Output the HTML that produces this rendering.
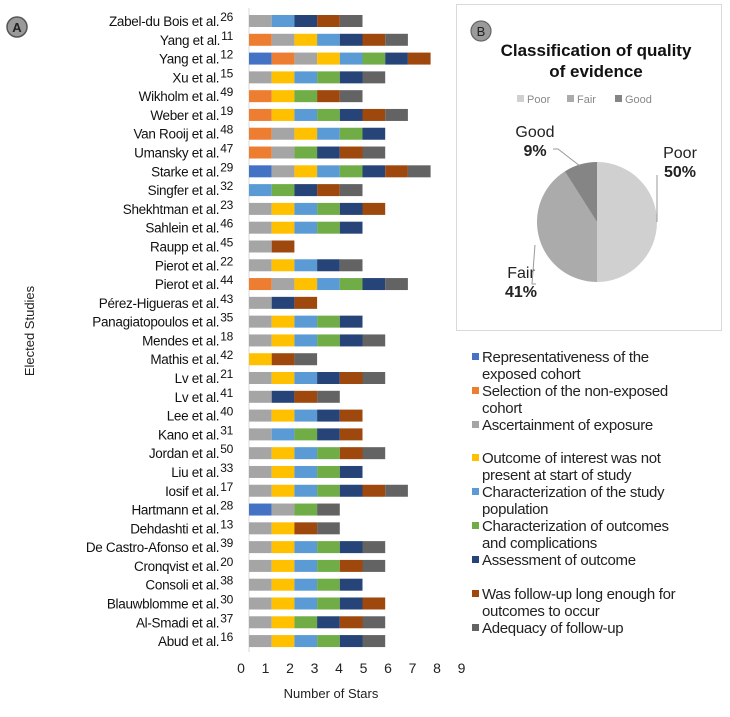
<!DOCTYPE html>
<html><head><meta charset="utf-8"><style>
body{margin:0;background:#fff;font-family:"Liberation Sans",sans-serif;}
svg text{font-family:"Liberation Sans",sans-serif;}
</style></head><body>
<svg width="730" height="712" viewBox="0 0 730 712">
<g id="bars"></g>
<g id="pie"></g>
<g id="legend"></g>
</svg>
<script>
const studies=["Zabel-du Bois et al.","Yang et al.","Yang et al.","Xu et al.","Wikholm et al.","Weber et al.","Van Rooij et al.","Umansky et al.","Starke et al.","Singfer et al.","Shekhtman et al.","Sahlein et al.","Raupp et al.","Pierot et al.","Pierot et al.","Pérez-Higueras et al.","Panagiatopoulos et al.","Mendes et al.","Mathis et al.","Lv et al.","Lv et al.","Lee et al.","Kano et al.","Jordan et al.","Liu et al.","Iosif et al.","Hartmann et al.","Dehdashti et al.","De Castro-Afonso et al.","Cronqvist et al.","Consoli et al.","Blauwblomme et al.","Al-Smadi et al.","Abud et al."];
const refs=["26","11","12","15","49","19","48","47","29","32","23","46","45","22","44","43","35","18","42","21","41","40","31","50","33","17","28","13","39","20","38","30","37","16"];
const criteria=["Representativeness of the exposed cohort","Selection of the non-exposed cohort","Ascertainment of exposure","Outcome of interest was not present at start of study","Characterization of the study population","Characterization of outcomes and complications","Assessment of outcome","Was follow-up long enough for outcomes to occur","Adequacy of follow-up"];
const colors=["#4472C4","#ED7D31","#A5A5A5","#FFC000","#5B9BD5","#70AD47","#264478","#9E480E","#636363"];
const stars=[[2,4,6,7,8],[1,2,3,4,6,7,8],[0,1,2,3,4,5,6,7],[2,3,4,5,6,8],[1,3,5,7,8],[1,3,4,5,6,7,8],[1,2,3,4,5,6],[1,2,5,6,7,8],[0,2,3,4,5,6,7,8],[4,5,6,7,8],[2,3,4,5,6,7],[2,3,4,5,6],[2,7],[2,3,4,6,8],[1,2,3,4,5,6,8],[2,6,7],[2,3,4,5,6],[2,3,4,5,6,8],[3,7,8],[2,3,4,6,7,8],[2,6,7,8],[2,3,4,6,7],[2,4,5,6,7],[2,3,4,5,7,8],[2,3,4,5,6],[2,3,4,5,6,7,8],[0,2,5,8],[2,3,7,8],[2,3,4,5,6,8],[2,3,4,5,7,8],[2,3,4,5,6],[2,3,4,5,6,7],[2,3,5,6,7,8],[2,3,4,5,6,8]];
const ticks=[0,1,2,3,4,5,6,7,8,9];
const pieLabels=["Poor","Fair","Good"];
const pieValues=[50,41,9];
const pieColors=["#D0D0D0","#ABABAB","#858585"];

const NS="http://www.w3.org/2000/svg";
function mk(tag,attrs,parent,txt){const e=document.createElementNS(NS,tag);for(const k in attrs)e.setAttribute(k,attrs[k]);if(txt!==undefined)e.textContent=txt;parent.appendChild(e);return e;}
const X0=249,UNIT=22.7,Y0=21,STEP=18.79,BH=12;
const x=v=>X0+v*UNIT, y=i=>Y0+i*STEP;
const tickX=v=>241+v*24.5;
const bars=document.getElementById('bars');
let b=mk('circle',{cx:17,cy:27,r:10,fill:'#9a9a9a',stroke:'#555','stroke-width':1.5},bars);

mk('text',{x:17,y:32,'text-anchor':'middle','font-size':13,'font-weight':'bold',fill:'#222'},bars,'A');
let ax=mk('line',{x1:X0,y1:8,x2:X0,y2:652,stroke:'#d9d9d9'},bars);

studies.forEach((s,i)=>{
  const t=mk('text',{x:233,y:y(i)+5,'text-anchor':'end','font-size':13.5,fill:'#111','letter-spacing':'-0.3'},bars);
  
  t.textContent=s;
  mk('tspan',{'font-size':12,dy:-5,dx:1},t,refs[i]);
  stars[i].forEach((c,k)=>{
    const r=mk('rect',{x:x(k),y:y(i)-BH/2,width:UNIT,height:BH,fill:colors[c]},bars);
    
  });
});
ticks.forEach(v=>{
  const t=mk('text',{x:tickX(v),y:673,'text-anchor':'middle','font-size':14,fill:'#222'},bars,String(v));
  
});
let xt=mk('text',{x:331,y:698,'text-anchor':'middle','font-size':13,fill:'#222'},bars,'Number of Stars');

let yt=mk('text',{x:0,y:0,'text-anchor':'middle','font-size':13,fill:'#222',transform:'translate(34,331) rotate(-90)'},bars,'Elected Studies');


const pie=document.getElementById('pie');
let box=mk('rect',{x:456.5,y:4.5,width:265,height:326,fill:'#fff',stroke:'#d9d9d9'},pie);

mk('circle',{cx:481,cy:31,r:10,fill:'#9a9a9a',stroke:'#666','stroke-width':1.2},pie);
mk('text',{x:481,y:36,'text-anchor':'middle','font-size':13,fill:'#222'},pie,'B');
let pt=mk('text',{x:596,y:56,'text-anchor':'middle','font-size':17,'font-weight':'bold',fill:'#111'},pie,'Classification of quality');

mk('text',{x:596,y:77,'text-anchor':'middle','font-size':17,'font-weight':'bold',fill:'#111'},pie,'of evidence');
const lgx=[517,567,615];
pieLabels.forEach((l,i)=>{
  const r=mk('rect',{x:lgx[i],y:95,width:7,height:7,fill:pieColors[i]},pie);
  
  const t=mk('text',{x:lgx[i]+10,y:103,'font-size':11,fill:'#888'},pie,l);
  
});
const cx=597,cy=222,R=60;
const tot=pieValues.reduce((a,b)=>a+b,0);
let acc=0;
pieValues.forEach((v,i)=>{
  const a0=acc/tot*2*Math.PI, a1=(acc+v)/tot*2*Math.PI; acc+=v;
  const p=a=>[cx+R*Math.sin(a),cy-R*Math.cos(a)];
  const [x0,y0]=p(a0),[x1,y1]=p(a1);
  const s=mk('path',{d:`M${cx},${cy}L${x0},${y0}A${R},${R} 0 ${a1-a0>Math.PI?1:0} 1 ${x1},${y1}Z`,fill:pieColors[i]},pie);
  
});
const pl=[[680,158,pieLabels[0],pieValues[0]],[521,278,pieLabels[1],pieValues[1]],[535,137,pieLabels[2],pieValues[2]]];
pl.forEach(q=>{
  const t=mk('text',{x:q[0],y:q[1],'text-anchor':'middle','font-size':16,fill:'#222'},pie);
  
  mk('tspan',{x:q[0],dy:0},t,q[2]);
  mk('tspan',{x:q[0],dy:19,'font-weight':'bold'},t,q[3]+'%');
});
mk('polyline',{points:'657,175 657,222',fill:'none',stroke:'#999'},pie);
mk('polyline',{points:'536,284 532,284 535,245',fill:'none',stroke:'#999'},pie);
mk('polyline',{points:'553,149 558,149 580,166',fill:'none',stroke:'#999'},pie);

const lg=document.getElementById('legend');
const lgy=[357,391,425,458,492,526,560,594,628];
criteria.forEach((c,i)=>{
  const r=mk('rect',{x:472,y:lgy[i]-4,width:7,height:7,fill:colors[i]},lg);
  
  const words=c.split(' ');let lines=[''];
  words.forEach(w=>{const cur=lines[lines.length-1];if((cur+' '+w).trim().length>30)lines.push(w);else lines[lines.length-1]=(cur+' '+w).trim();});
  const t=mk('text',{x:482,y:lgy[i]+5,'font-size':15,fill:'#222','letter-spacing':'-0.3'},lg);
  
  lines.forEach((l,k)=>mk('tspan',{x:482,dy:k?17:0},t,l));
});
</script>
</body></html>
